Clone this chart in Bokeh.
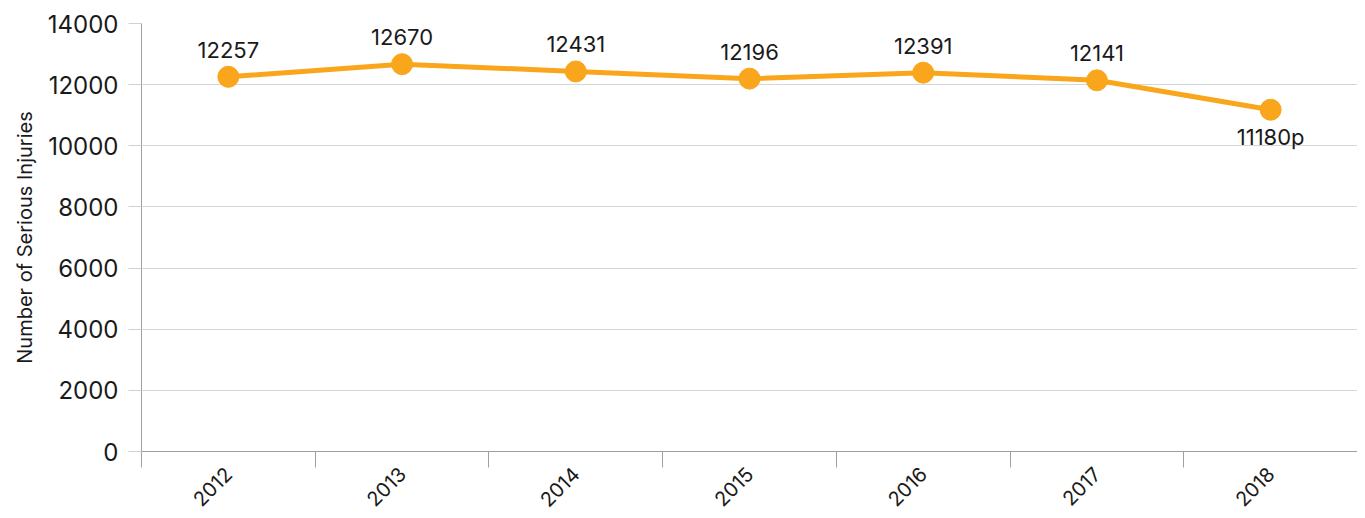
from bokeh.plotting import figure
from bokeh.models import Range1d, FixedTicker, ColumnDataSource
from bokeh.core.properties import value
from bokeh.embed import file_html
from bokeh.resources import INLINE

years = ["2012", "2013", "2014", "2015", "2016", "2017", "2018"]
injuries = [12257, 12670, 12431, 12196, 12391, 12141, 11180]
labels = ["12257", "12670", "12431", "12196", "12391", "12141", "11180p"]
y_ticks = [0, 2000, 4000, 6000, 8000, 10000, 12000, 14000]
y_title = "Number of Serious Injuries"

FONT = "Inter"
ORANGE = "#F9A61C"
TEXT = "#1a1a1a"

xs = [i + 0.5 for i in range(len(years))]
above = [lab[-1] != "p" for lab in labels]

p = figure(width=1357, height=516, output_backend="svg", toolbar_location=None,
           x_range=Range1d(0, len(years)), y_range=Range1d(0, 14000),
           min_border_left=141, min_border_right=0, min_border_top=23, min_border_bottom=60)
p.outline_line_color = None
p.background_fill_color = "white"

p.line(xs, injuries, line_color=ORANGE, line_width=5)
p.scatter(xs, injuries, size=21, fill_color=ORANGE, line_color=ORANGE)

src_a = ColumnDataSource(dict(x=[x for x, a in zip(xs, above) if a],
                              y=[v for v, a in zip(injuries, above) if a],
                              t=[l for l, a in zip(labels, above) if a]))
src_b = ColumnDataSource(dict(x=[x for x, a in zip(xs, above) if not a],
                              y=[v for v, a in zip(injuries, above) if not a],
                              t=[l for l, a in zip(labels, above) if not a]))
p.text("x", "y", text="t", source=src_a, text_align="center", text_baseline="alphabetic",
       y_offset=-27, text_font=value(FONT), text_font_size="22px", text_color=TEXT)
p.text("x", "y", text="t", source=src_b, text_align="center", text_baseline="alphabetic",
       y_offset=27, text_font=value(FONT), text_font_size="22px", text_color=TEXT)

# x axis
p.xaxis.ticker = FixedTicker(ticks=xs, minor_ticks=list(range(len(years) + 1)))
p.xaxis.major_label_overrides = {x: y for x, y in zip(xs, years)}
p.xaxis.major_tick_out = 0
p.xaxis.major_tick_in = 0
p.xaxis.minor_tick_out = 16
p.xaxis.minor_tick_in = 0
p.xaxis.minor_tick_line_color = "#a0a0a0"
p.xaxis.axis_line_color = "#a0a0a0"
p.xaxis.major_label_orientation = 0.785
p.xaxis.major_label_text_font = FONT
p.xaxis.major_label_text_font_size = "20px"
p.xaxis.major_label_text_color = TEXT
p.xaxis.major_label_standoff = 3

# y axis
p.yaxis.ticker = FixedTicker(ticks=y_ticks)
p.yaxis.major_tick_out = 13
p.yaxis.major_tick_in = 0
p.yaxis.major_tick_line_color = "#d0d0d0"
p.yaxis.minor_tick_line_color = None
p.yaxis.axis_line_color = "#a0a0a0"
p.yaxis.major_label_text_font = FONT
p.yaxis.major_label_text_font_size = "24px"
p.yaxis.major_label_text_color = TEXT
p.yaxis.major_label_standoff = 10
p.yaxis.axis_label = y_title
p.yaxis.axis_label_text_font = FONT
p.yaxis.axis_label_text_font_size = "20px"
p.yaxis.axis_label_text_font_style = "normal"
p.yaxis.axis_label_text_color = TEXT
p.yaxis.axis_label_standoff = 8

p.xgrid.grid_line_color = None
p.ygrid.grid_line_color = "#d6d6d6"
p.ygrid.grid_line_width = 1

open("out.html", "w").write(file_html(p, INLINE))
